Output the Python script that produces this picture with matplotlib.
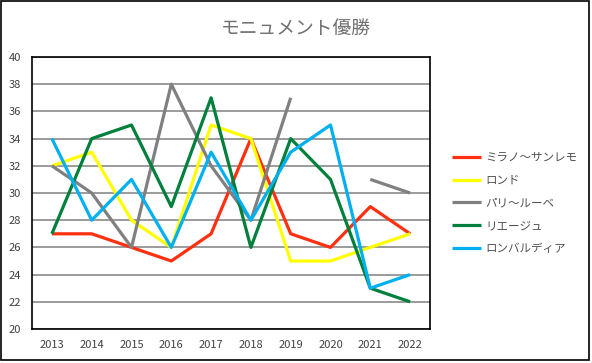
import numpy as np
import matplotlib.pyplot as plt
from matplotlib.patches import Rectangle

plt.rcParams['font.family'] = ['Noto Sans CJK JP', 'DejaVu Sans']

# Données
annees = ['2013', '2014', '2015', '2016', '2017', '2018', '2019', '2020', '2021', '2022']
milano_sanremo = [27, 27, 26, 25, 27, 34, 27, 26, 29, 27]
ronde = [32, 33, 28, 26, 35, 34, 25, 25, 26, 27]
paris_roubaix = [32, 30, 26, 38, 32, 28, 37, np.nan, 31, 30]  # 2020 annulé
liege = [27, 34, 35, 29, 37, 26, 34, 31, 23, 22]
lombardia = [34, 28, 31, 26, 33, 28, 33, 35, 23, 24]

series = [
    ('ミラノ〜サンレモ', milano_sanremo, '#ff3010'),
    ('ロンド', ronde, '#ffff00'),
    ('パリ〜ルーベ', paris_roubaix, '#808080'),
    ('リエージュ', liege, '#00803c'),
    ('ロンバルディア', lombardia, '#00b0f0'),
]

W, H = 592, 363
fig = plt.figure(figsize=(W / 100, H / 100), dpi=100)

# cadre extérieur
fig.patches.append(Rectangle((1 / W, 1 - 360 / H), 588 / W, 359 / H,
                             transform=fig.transFigure, fill=False,
                             edgecolor='black', linewidth=1.2))

ax = fig.add_axes([32 / W, 1 - 329 / H, 398 / W, 272 / H])

x = np.arange(len(annees))
for nom, vals, couleur in series:
    ax.plot(x, vals, color=couleur, linewidth=2.3, label=nom, solid_capstyle='butt')

ax.set_xlim(-0.5, len(annees) - 0.5)
ax.set_ylim(20, 40)
ax.set_yticks(range(20, 41, 2))
ax.set_xticks(x)
ax.set_xticklabels(annees)
ax.yaxis.grid(True, color='#808080', linewidth=1.1)
ax.set_axisbelow(True)
ax.tick_params(length=0, labelsize=8, colors='#404040', pad=8)
for s in ax.spines.values():
    s.set_color('black')
    s.set_linewidth(1.2)

fig.text(296 / W, 1 - 28 / H, 'モニュメント優勝', ha='center', va='center',
         fontsize=13.5, color='#707070')

leg = ax.legend(loc='center left', bbox_to_anchor=(442 / W, 1 - 203 / H),
                bbox_transform=fig.transFigure, frameon=False, fontsize=8.3,
                handlelength=2.5, labelspacing=0.85, handletextpad=0.35)
for t in leg.get_texts():
    t.set_color('#505050')

fig.savefig('out.png', dpi=100)
